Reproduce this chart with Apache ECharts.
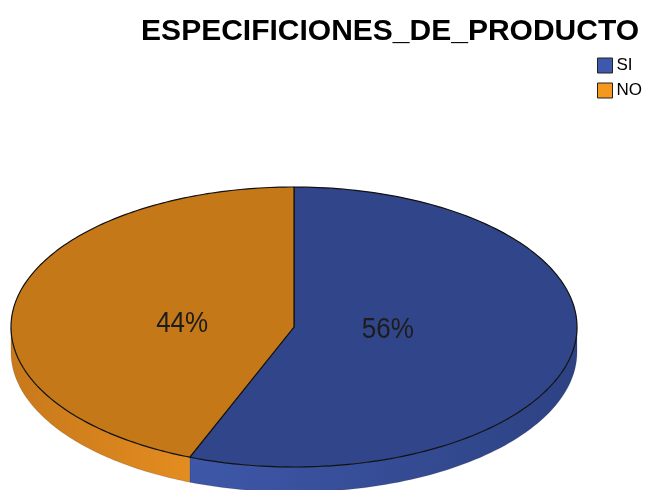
<!DOCTYPE html>
<html><head><meta charset="utf-8">
<script src="https://cdn.jsdelivr.net/npm/echarts@6/dist/echarts.min.js"></script>
<style>html,body{margin:0;padding:0;background:#fff}#c{width:649px;height:490px}</style>
</head><body><div id="c"></div>
<script>
const titleText = 'ESPECIFICIONES_DE_PRODUCTO';
const categories = ['SI', 'NO'];
const values = [56, 44];
const topColors = ['#31468a', '#c47818'];
const sideDark = ['#2d4283', '#c8791b'];
const sideLight = ['#3e57a8', '#e38c20'];
const legendColors = ['#3e58ac', '#f5981e'];

const CX = 294, CY = 327, RX = 283, RY = 140, H = 25;
const total = values.reduce((a, b) => a + b, 0);

function pt(a, dy) { return [CX + RX * Math.sin(a), CY - RY * Math.cos(a) + (dy || 0)]; }

function makeRender(si) {
  return function (params, api) {
    let start = 0;
    for (let k = 0; k < si; k++) start += values[k];
    const v = api.value(0);
    const a0 = start / total * 2 * Math.PI;
    const a1 = (start + v) / total * 2 * Math.PI;
    const children = [];
    const s0 = Math.max(a0, Math.PI / 2), s1 = Math.min(a1, 3 * Math.PI / 2);
    if (s1 > s0) {
      const pts = [];
      const n = 80;
      for (let s = 0; s <= n; s++) pts.push(pt(s0 + (s1 - s0) * s / n));
      for (let s = n; s >= 0; s--) pts.push(pt(s0 + (s1 - s0) * s / n, H));
      const lightAtRight = si === 1;
      children.push({
        type: 'polygon',
        shape: { points: pts },
        style: {
          fill: new echarts.graphic.LinearGradient(0, 0, 1, 0, [
            { offset: 0, color: lightAtRight ? sideDark[si] : sideLight[si] },
            { offset: 1, color: lightAtRight ? sideLight[si] : sideDark[si] }
          ]),
          stroke: 'rgba(0,0,0,0.25)', lineWidth: 0.6
        }
      });
    }
    const tp = [[CX, CY]];
    const m = 160;
    for (let s = 0; s <= m; s++) tp.push(pt(a0 + (a1 - a0) * s / m));
    children.push({
      type: 'polygon',
      shape: { points: tp },
      style: { fill: topColors[si], stroke: '#111', lineWidth: 1.2, lineJoin: 'round' }
    });
    const am = (a0 + a1) / 2;
    const lx = CX - 9 + RX * Math.sin(am) * 0.37;
    const ly = CY - RY * Math.cos(am) * 0.1;
    children.push({
      type: 'text',
      x: lx, y: ly, scaleY: 1.13, originX: 0, originY: 0,
      style: {
        text: Math.round(v / total * 100) + '%',
        fill: '#1c1c1c', font: '26px "Liberation Sans", Arial, sans-serif',
        align: 'center', verticalAlign: 'middle'
      }
    });
    return { type: 'group', children: children };
  };
}

const chart = echarts.init(document.getElementById('c'));
chart.setOption({
  animation: false,
  backgroundColor: '#ffffff',
  title: {
    text: titleText, right: 5, top: 12,
    textStyle: { fontFamily: '"Liberation Sans", Arial, sans-serif', fontWeight: 'bold', fontSize: 30, color: '#000' }
  },
  legend: {
    orient: 'vertical', left: 597, top: 57, itemWidth: 15, itemHeight: 15, itemGap: 8,
    icon: 'rect', padding: 0,
    data: categories,
    itemStyle: { borderColor: '#222', borderWidth: 1 },
    textStyle: { fontFamily: '"Liberation Sans", Arial, sans-serif', fontSize: 17, color: '#000', padding: [0, 0, 0, -1] }
  },
  series: categories.map((c, i) => ({
    type: 'custom', name: c, coordinateSystem: 'none',
    itemStyle: { color: legendColors[i] },
    renderItem: makeRender(i),
    data: [[values[i]]]
  }))
});
</script></body></html>
